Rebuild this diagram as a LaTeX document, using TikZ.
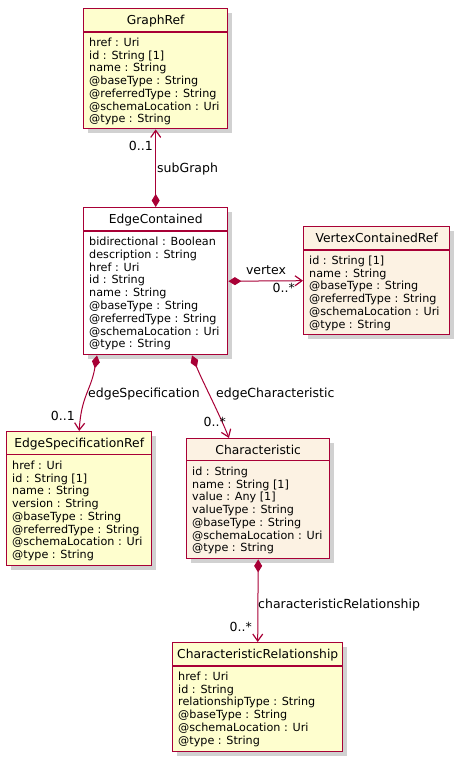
\documentclass[tikz,border=0pt]{standalone}
\usepackage{fontspec}
\setmainfont{DejaVu Sans}
\usetikzlibrary{arrows.meta,shadows,calc}

\begin{document}
\begin{tikzpicture}[x=1pt,y=-1pt]
        % Define colors
        \definecolor{umlred}{RGB}{168, 0, 54}
        \definecolor{refyellow}{RGB}{254, 254, 206}
        \definecolor{entbeige}{RGB}{252, 242, 227}

        \tikzset{
          classbox/.style={draw=umlred, line width=1.4pt, anchor=north west, inner sep=0pt,
            drop shadow={shadow xshift=4pt, shadow yshift=-4pt, opacity=0.18, fill=black}},
          classrule/.style={draw=umlred, line width=1.2pt},
          classname/.style={font=\fontsize{12.3}{14}\selectfont, anchor=base, inner sep=0pt},
          classattr/.style={font=\fontsize{11.2}{13}\selectfont, anchor=base west, inner sep=0pt},
          assoclabel/.style={font=\fontsize{12.5}{14}\selectfont, inner sep=0pt},
          assoc/.style={draw=umlred, line width=1pt,
            {Diamond[length=13pt,width=8pt]}-{Straight Barb[length=7pt,width=10pt,line width=1.2pt]}}
        }

        \useasboundingbox (0,0) rectangle (458,760);

        % --- GraphRef ---
        \node[classbox, fill=refyellow, minimum width=144pt, minimum height=120pt] (graphref) at (83,8) {};
        \draw[classrule] ($(graphref.north west)+(0,24)$) -- ($(graphref.north east)+(0,24)$);
        \node[classname] (graphref-name) at ($(graphref.north)+(0,16.5)$) {GraphRef};
        \foreach \a [count=\i from 0] in {href : Uri, id : String [1], name : String, @baseType : String,
            @referredType : String, @schemaLocation : Uri, @type : String}
          \node[classattr] (graphref-\i) at ($(graphref.north west)+(6,38.5+12.7*\i)$) {\a};

        % --- EdgeContained ---
        \node[classbox, fill=white, minimum width=144pt, minimum height=147pt] (edgecont) at (83,207) {};
        \draw[classrule] ($(edgecont.north west)+(0,24)$) -- ($(edgecont.north east)+(0,24)$);
        \node[classname] (edgecont-name) at ($(edgecont.north)+(0,16.5)$) {EdgeContained};
        \foreach \a [count=\i from 0] in {bidirectional : Boolean, description : String, href : Uri,
            id : String, name : String, @baseType : String, @referredType : String,
            @schemaLocation : Uri, @type : String}
          \node[classattr] (edgecont-\i) at ($(edgecont.north west)+(6,38.5+12.8*\i)$) {\a};

        % --- VertexContainedRef ---
        \node[classbox, fill=entbeige, minimum width=146pt, minimum height=108pt] (vertexref) at (303,226) {};
        \draw[classrule] ($(vertexref.north west)+(0,24)$) -- ($(vertexref.north east)+(0,24)$);
        \node[classname] (vertexref-name) at ($(vertexref.north)+(0,16.5)$) {VertexContainedRef};
        \foreach \a [count=\i from 0] in {id : String [1], name : String, @baseType : String,
            @referredType : String, @schemaLocation : Uri, @type : String}
          \node[classattr] (vertexref-\i) at ($(vertexref.north west)+(6,38.5+12.7*\i)$) {\a};

        % --- EdgeSpecificationRef ---
        \node[classbox, fill=refyellow, minimum width=145pt, minimum height=134pt] (espec) at (6,431) {};
        \draw[classrule] ($(espec.north west)+(0,23.5)$) -- ($(espec.north east)+(0,23.5)$);
        \node[classname] (espec-name) at ($(espec.north)+(0,16.5)$) {EdgeSpecificationRef};
        \foreach \a [count=\i from 0] in {href : Uri, id : String [1], name : String, version : String,
            @baseType : String, @referredType : String, @schemaLocation : Uri, @type : String}
          \node[classattr] (espec-\i) at ($(espec.north west)+(6,38.5+12.7*\i)$) {\a};

        % --- Characteristic ---
        \node[classbox, fill=entbeige, minimum width=143pt, minimum height=120pt] (char) at (186,438) {};
        \draw[classrule] ($(char.north west)+(0,22.5)$) -- ($(char.north east)+(0,22.5)$);
        \node[classname] (char-name) at ($(char.north)+(0,16)$) {Characteristic};
        \foreach \a [count=\i from 0] in {id : String, name : String [1], value : Any [1], valueType : String,
            @baseType : String, @schemaLocation : Uri, @type : String}
          \node[classattr] (char-\i) at ($(char.north west)+(6,37.5+12.7*\i)$) {\a};

        % --- CharacteristicRelationship ---
        \node[classbox, fill=refyellow, minimum width=170pt, minimum height=109pt] (charrel) at (172,642) {};
        \draw[classrule] ($(charrel.north west)+(0,24)$) -- ($(charrel.north east)+(0,24)$);
        \node[classname] (charrel-name) at ($(charrel.north)+(0,16.5)$) {CharacteristicRelationship};
        \foreach \a [count=\i from 0] in {href : Uri, id : String, relationshipType : String,
            @baseType : String, @schemaLocation : Uri, @type : String}
          \node[classattr] (charrel-\i) at ($(charrel.north west)+(6,38.5+12.7*\i)$) {\a};

        % Associations
        \coordinate (espec-start) at ($(edgecont.south west)+(14,0)$);
        \coordinate (echar-start) at ($(edgecont.south west)+(109,0)$);
        \coordinate (echar-end) at ($(char.north west)+(43,0)$);
        \draw[assoc] (edgecont.north) -- (graphref.south);
        \draw[assoc] (edgecont.east) -- (vertexref.west);
        \draw[assoc] (espec-start) .. controls +(-6,35) and +(2,-35) .. (espec.north);
        \draw[assoc] (echar-start) .. controls +(10,25) and +(-10,-25) .. (echar-end);
        \draw[assoc] (char.south) -- (charrel.north);

        % Labels
        \node[assoclabel, anchor=base west] (subgraph-lbl) at (157,172) {subGraph};
        \node[assoclabel, anchor=base east] (subgraph-mult) at (153,150) {0..1};
        \node[assoclabel, anchor=base] (vertex-lbl) at (266,274) {vertex};
        \node[assoclabel, anchor=base east] (vertex-mult) at (295,292) {0..*};
        \node[assoclabel, anchor=base west] (espec-lbl) at (88,397) {edgeSpecification};
        \node[assoclabel, anchor=base east] (espec-mult) at (75,420) {0..1};
        \node[assoclabel, anchor=base west] (echar-lbl) at (216,397) {edgeCharacteristic};
        \node[assoclabel, anchor=base east] (echar-mult) at (226,426) {0..*};
        \node[assoclabel, anchor=base west] (charrel-lbl) at (258,608) {characteristicRelationship};
        \node[assoclabel, anchor=base east] (charrel-mult) at (252,631) {0..*};
\end{tikzpicture}
\end{document}
